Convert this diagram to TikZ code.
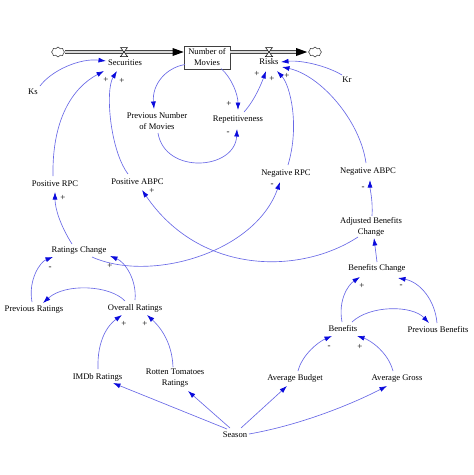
\documentclass[tikz,border=0pt]{standalone}
\usepackage{fontspec}
\setmainfont{Liberation Serif}
\usetikzlibrary{arrows.meta,shapes.symbols}
\definecolor{linecol}{RGB}{105,105,230}
\definecolor{tipcol}{RGB}{10,10,220}
\tikzset{
 lbl/.style={font=\fontsize{8.6}{11}\selectfont, inner sep=1pt, align=center},
 pol/.style={font=\fontsize{9}{10}\selectfont, inner sep=0pt},
 arr/.style={draw=linecol, line width=0.65pt, -{Latex[length=7.5pt,width=5pt,color=tipcol]}},
 pipe/.style={draw=gray!55!black, double=gray!30, double distance=1.8pt, line width=0.8pt},
 cloudy/.style={cloud, cloud puffs=8, draw=gray!60!black, fill=white, minimum width=13pt, minimum height=10pt, inner sep=0pt, line width=0.6pt},
 valve/.style={draw=black, fill=white, line width=0.5pt},
}
\begin{document}
\begin{tikzpicture}[x=1pt,y=-1pt]
\useasboundingbox (0,0) rectangle (474,475);
% stock and flows
\node[cloudy] (cloudL) at (58,52) {};
\node[cloudy] (cloudR) at (315,52) {};
\node[draw=gray!50!black, line width=0.7pt, fill=white, minimum width=46pt, minimum height=23pt, lbl] (NM) at (207,57.5) {Number of\\Movies};
\coordinate (inL) at ([shift={(0,-5.5)}]NM.west);
\coordinate (outR) at ([shift={(0,-5.5)}]NM.east);
\draw[pipe] (cloudL.east) -- ([shift={(-10,0)}]inL);
\fill[black] (inL) -- ([shift={(-11,-4)}]inL) -- ([shift={(-11,4)}]inL) -- cycle;
\draw[pipe] (outR) -- ([shift={(-11,0)}]cloudR.west);
\fill[black] ([shift={(-1,0)}]cloudR.west) -- ([shift={(-12,-4)}]cloudR.west) -- ([shift={(-12,4)}]cloudR.west) -- cycle;
\coordinate (vS) at (124,52);
\coordinate (vR) at (269,52);
\draw[valve] ([shift={(-3.5,-4.5)}]vS) -- ([shift={(3.5,-4.5)}]vS) -- ([shift={(-3.5,4.5)}]vS) -- ([shift={(3.5,4.5)}]vS) -- cycle;
\draw[valve] ([shift={(-3.5,-4.5)}]vR) -- ([shift={(3.5,-4.5)}]vR) -- ([shift={(-3.5,4.5)}]vR) -- ([shift={(3.5,4.5)}]vR) -- cycle;
% labels
\node[lbl] (Sec) at (125,63) {Securities};
\node[lbl] (Risks) at (269,62) {Risks};
\node[lbl] (Ks) at (33,92) {Ks};
\node[lbl] (Kr) at (347,80) {Kr};
\node[lbl] (PNM) at (157,121.5) {Previous Number\\of Movies};
\node[lbl] (Rep) at (238,120) {Repetitiveness};
\node[lbl] (PRPC) at (55,184) {Positive RPC};
\node[lbl] (PABPC) at (137.5,182) {Positive ABPC};
\node[lbl] (NRPC) at (286,174) {Negative RPC};
\node[lbl] (NABPC) at (368,172) {Negative ABPC};
\node[lbl] (ABC) at (371,227) {Adjusted Benefits\\Change};
\node[lbl] (RC) at (79,250) {Ratings Change};
\node[lbl] (BC) at (377,268) {Benefits Change};
\node[lbl] (PR) at (34,310) {Previous Ratings};
\node[lbl] (OR) at (135,308) {Overall Ratings};
\node[lbl] (Ben) at (343,329) {Benefits};
\node[lbl] (PB) at (438,330) {Previous Benefits};
\node[lbl] (IMDb) at (97.5,377) {IMDb Ratings};
\node[lbl] (RT) at (175,378) {Rotten Tomatoes\\Ratings};
\node[lbl] (AB) at (295,378) {Average Budget};
\node[lbl] (AG) at (397,379) {Average Gross};
\node[lbl] (Season) at (235,435) {Season};
% connectors
\draw[arr] ([shift={(7,-6)}]Ks.center) .. controls (52,70) and (80,58) .. ([shift={(-19,-2)}]Sec.center);
\draw[arr] ([shift={(-2,-8)}]PRPC.center) .. controls (52,120) and (72,88) .. ([shift={(-21,8)}]Sec.center);
\draw[arr] ([shift={(-9.5,-8)}]PABPC.center) .. controls (110,150) and (105,90) .. ([shift={(-8,8)}]Sec.center);
\draw[arr] ([shift={(-22,7)}]NM.center) .. controls (165,68) and (152,85) .. ([shift={(-3,-12.5)}]PNM.center);
\draw[arr] ([shift={(14,11)}]NM.center) .. controls (232,78) and (238,95) .. ([shift={(0,-10)}]Rep.center);
\draw[arr] ([shift={(1,11.5)}]PNM.center) .. controls (165,175) and (235,170) .. ([shift={(-1,9)}]Rep.center);
\draw[arr] ([shift={(6,-8)}]Rep.center) .. controls (255,100) and (262,82) .. ([shift={(-3,9)}]Risks.center);
\draw[arr] ([shift={(2,-9)}]NRPC.center) .. controls (300,125) and (290,85) .. ([shift={(8,9)}]Risks.center);
\draw[arr] ([shift={(-2,-9)}]NABPC.center) .. controls (360,120) and (320,75) .. ([shift={(13,5)}]Risks.center);
\draw[arr] ([shift={(-5,-5)}]Kr.center) .. controls (325,65) and (300,60) .. ([shift={(12,0)}]Risks.center);
\draw[arr] ([shift={(-7,-6)}]RC.center) .. controls (60,225) and (55,208) .. ([shift={(0,8)}]PRPC.center);
\draw[arr] ([shift={(-13,10)}]ABC.center) .. controls (300,275) and (200,275) .. ([shift={(4.5,8)}]PABPC.center);
\draw[arr] ([shift={(13,7)}]RC.center) .. controls (150,283) and (255,253) .. ([shift={(-6,8)}]NRPC.center);
\draw[arr] ([shift={(0,-8)}]OR.center) .. controls (137,280) and (125,262) .. ([shift={(31,6)}]RC.center);
\draw[arr] ([shift={(-2,-8)}]PR.center) .. controls (28,280) and (40,262) .. ([shift={(-26,7)}]RC.center);
\draw[arr] ([shift={(-10,-7)}]OR.center) .. controls (110,285) and (65,283) .. ([shift={(9,-7)}]PR.center);
\draw[arr] ([shift={(0.5,-8)}]IMDb.center) .. controls (97,340) and (108,325) .. ([shift={(-13,7)}]OR.center);
\draw[arr] ([shift={(-2,-11)}]RT.center) .. controls (172,340) and (158,325) .. ([shift={(12,7)}]OR.center);
\draw[arr] ([shift={(-8,-6)}]Season.center) -- ([shift={(15.5,6)}]IMDb.center);
\draw[arr] ([shift={(-5,-7)}]Season.center) -- ([shift={(13,13)}]RT.center);
\draw[arr] ([shift={(6,-7)}]Season.center) -- ([shift={(-8,8)}]AB.center);
\draw[arr] ([shift={(14,-1)}]Season.center) .. controls (300,425) and (350,405) .. ([shift={(-10,7)}]AG.center);
\draw[arr] ([shift={(3,-7)}]AB.center) .. controls (302,355) and (318,342) .. ([shift={(-11,7)}]Ben.center);
\draw[arr] ([shift={(-4,-8)}]AG.center) .. controls (388,352) and (370,340) .. ([shift={(14,7)}]Ben.center);
\draw[arr] ([shift={(-1,-7)}]Ben.center) .. controls (338,300) and (348,285) .. ([shift={(-17,9)}]BC.center);
\draw[arr] ([shift={(9,-7)}]Ben.center) .. controls (370,305) and (412,305) .. ([shift={(-9,-7)}]PB.center);
\draw[arr] ([shift={(-1,-7)}]PB.center) .. controls (435,300) and (420,282) .. ([shift={(21,10)}]BC.center);
\draw[arr] ([shift={(0,-6)}]BC.center) -- ([shift={(3,11)}]ABC.center);
\draw[arr] ([shift={(1,-11)}]ABC.center) .. controls (373,200) and (370,190) .. ([shift={(2,8)}]NABPC.center);
% polarities
\node[pol] (p1) at (106,80) {+};
\node[pol] (p2) at (122,81) {+};
\node[pol] (p3) at (229,104) {+};
\node[pol] (p4) at (228,133) {-};
\node[pol] (p5) at (257,74) {+};
\node[pol] (p6) at (272,79) {+};
\node[pol] (p7) at (287,76) {+};
\node[pol] (p8) at (63,198) {+};
\node[pol] (p9) at (152,191) {+};
\node[pol] (p10) at (272,185) {-};
\node[pol] (p11) at (363,188) {-};
\node[pol] (p12) at (110,266) {+};
\node[pol] (p13) at (50,268) {-};
\node[pol] (p14) at (124,324) {+};
\node[pol] (p15) at (145,324) {+};
\node[pol] (p16) at (362,286) {+};
\node[pol] (p17) at (401,286) {-};
\node[pol] (p18) at (329,347) {-};
\node[pol] (p19) at (360,347) {+};
\end{tikzpicture}
\end{document}
